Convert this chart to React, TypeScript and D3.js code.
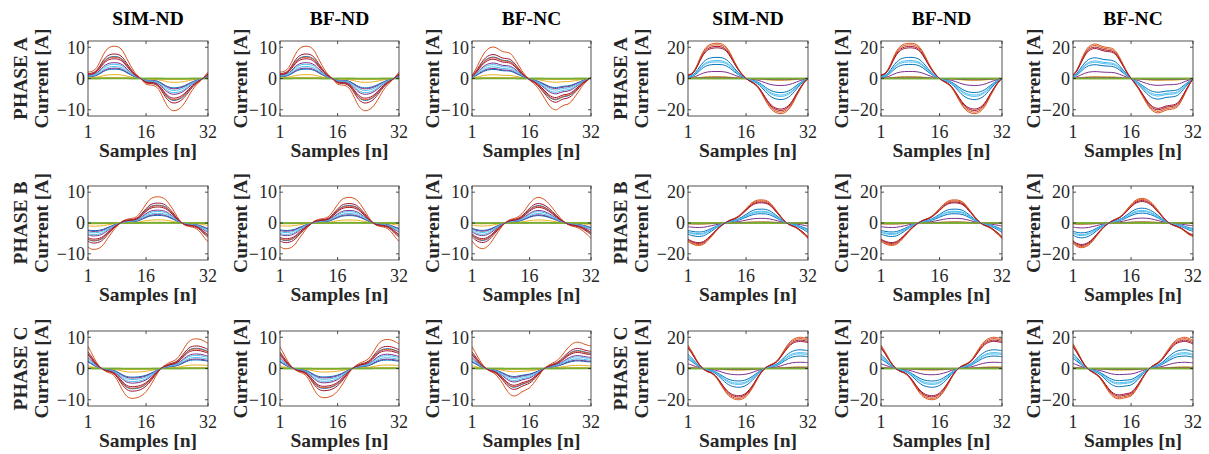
import React from 'react';
import * as d3 from 'd3';

// ---------- data ----------
const SAMPLES = [1, 2, 3, 4, 5, 6, 7, 8, 9, 10, 11, 12, 13, 14, 15, 16, 17, 18, 19, 20, 21, 22, 23, 24, 25, 26, 27, 28, 29, 30, 31, 32];
const METHODS = ['SIM-ND', 'BF-ND', 'BF-NC'];
const PHASES = ['PHASE A', 'PHASE B', 'PHASE C'];
const X_TICKS = [1, 16, 32];
const Y_TICKS_LOW = [-10, 0, 10];
const Y_TICKS_HIGH = [-20, 0, 20];
const Y_LIM_LOW = 12;
const Y_LIM_HIGH = 24;

// MATLAB default colour order, cycled over 14 traces
const SERIES_COLORS = ['#0072BD', '#D95319', '#EDB120', '#7E2F8E', '#77AC30', '#4DBEEE', '#A2142F', '#0072BD', '#D95319', '#EDB120', '#7E2F8E', '#77AC30', '#4DBEEE', '#A2142F'];
// size of each trace relative to the largest one
const REL_LOW = [0.68, 1.0, 0.12, 0.49, 0, 0.44, 0.76, 0.29, 0.66, 0.03, 0.32, 0.01, 0.37, 0.61];
const REL_HIGH = [0.6, 1.0, 0.053, 0.2, 0, 0.51, 0.91, 0.4, 0.956, 0.018, 0.036, 0.004, 0.47, 0.87];
// peak of the largest trace [A] per column (rows: phase A, B, C)
const PEAK_SIM_LOW = [10.3, 8.5, 9.5];
const PEAK_BFND_LOW = [10.3, 8.3, 9.3];
const PEAK_BFNC_LOW = [10.0, 8.3, 8.8];
const PEAK_SIM_HIGH = [22.5, 15, 20];
const PEAK_BFND_HIGH = [22.5, 15, 20];
const PEAK_BFNC_HIGH = [22, 16, 20];

// normalised waveforms (low-current panels)
const LOW_SIM_A = [0.2, 0.22, 0.3, 0.5, 0.75, 0.92, 0.99, 1.0, 0.97, 0.85, 0.62, 0.4, 0.2, 0.07, -0.05, -0.18, -0.2, -0.22, -0.3, -0.5, -0.75, -0.93, -1.0, -0.98, -0.9, -0.75, -0.55, -0.35, -0.2, -0.08, 0.05, 0.2];
const LOW_SIM_B = [-0.92, -1.0, -1.0, -0.95, -0.82, -0.6, -0.4, -0.2, -0.05, 0.08, 0.14, 0.17, 0.2, 0.3, 0.5, 0.72, 0.9, 0.98, 1.0, 0.98, 0.9, 0.72, 0.5, 0.25, 0.05, -0.08, -0.13, -0.16, -0.22, -0.35, -0.55, -0.72];
const LOW_SIM_C = [0.75, 0.5, 0.25, 0.07, -0.05, -0.12, -0.17, -0.28, -0.5, -0.75, -0.93, -1.0, -1.0, -0.97, -0.9, -0.78, -0.6, -0.38, -0.15, 0.02, 0.12, 0.2, 0.25, 0.33, 0.5, 0.72, 0.9, 0.98, 1.0, 0.98, 0.92, 0.85];
const LOW_NC_A = [0.1, 0.3, 0.55, 0.78, 0.93, 1.0, 1.0, 0.93, 0.86, 0.84, 0.8, 0.65, 0.45, 0.25, 0.08, -0.05, -0.15, -0.28, -0.45, -0.65, -0.85, -0.97, -1.0, -0.92, -0.85, -0.82, -0.72, -0.55, -0.38, -0.2, -0.08, 0.05];
const LOW_NC_B = [-0.7, -0.88, -0.98, -1.0, -0.92, -0.75, -0.52, -0.3, -0.1, 0.05, 0.14, 0.18, 0.24, 0.36, 0.55, 0.76, 0.92, 1.0, 0.98, 0.9, 0.76, 0.58, 0.38, 0.2, 0.05, -0.06, -0.12, -0.16, -0.22, -0.32, -0.45, -0.6];
const LOW_NC_C = [0.8, 0.55, 0.3, 0.1, -0.04, -0.12, -0.2, -0.35, -0.55, -0.78, -0.95, -1.0, -0.95, -0.85, -0.78, -0.7, -0.55, -0.35, -0.15, 0.02, 0.12, 0.2, 0.28, 0.4, 0.58, 0.75, 0.88, 0.95, 0.95, 0.9, 0.85, 0.82];

// normalised waveforms (high-current panels)
const HIGH_SIM_A = [0.1, 0.15, 0.3, 0.55, 0.78, 0.92, 0.98, 1.0, 1.0, 0.97, 0.88, 0.7, 0.48, 0.28, 0.12, 0.0, -0.08, -0.15, -0.25, -0.42, -0.62, -0.8, -0.92, -0.98, -1.0, -0.97, -0.88, -0.72, -0.5, -0.3, -0.12, 0.0];
const HIGH_SIM_B = [-0.8, -0.9, -0.96, -0.97, -0.92, -0.78, -0.6, -0.4, -0.22, -0.07, 0.05, 0.14, 0.2, 0.3, 0.45, 0.62, 0.8, 0.93, 0.99, 1.0, 0.98, 0.9, 0.72, 0.5, 0.28, 0.08, -0.06, -0.14, -0.22, -0.35, -0.5, -0.68];
const HIGH_SIM_C = [0.75, 0.55, 0.32, 0.12, -0.02, -0.1, -0.15, -0.25, -0.42, -0.62, -0.8, -0.92, -0.98, -1.0, -0.98, -0.9, -0.75, -0.55, -0.32, -0.12, 0.02, 0.1, 0.16, 0.25, 0.42, 0.62, 0.8, 0.92, 0.98, 1.0, 0.98, 0.95];
const HIGH_NC_A = [0.1, 0.25, 0.5, 0.75, 0.92, 0.99, 1.0, 0.96, 0.92, 0.9, 0.88, 0.8, 0.62, 0.4, 0.18, 0.0, -0.15, -0.32, -0.52, -0.72, -0.88, -0.97, -1.0, -0.97, -0.92, -0.9, -0.88, -0.82, -0.65, -0.42, -0.2, 0.0];
const HIGH_NC_B = [-0.82, -0.95, -1.0, -0.98, -0.9, -0.75, -0.55, -0.35, -0.17, -0.03, 0.08, 0.16, 0.24, 0.38, 0.56, 0.75, 0.9, 0.98, 1.0, 0.96, 0.86, 0.7, 0.5, 0.3, 0.12, -0.02, -0.1, -0.16, -0.24, -0.36, -0.48, -0.55];
const HIGH_NC_C = [0.8, 0.58, 0.34, 0.12, -0.03, -0.12, -0.2, -0.32, -0.5, -0.7, -0.86, -0.95, -0.97, -0.95, -0.92, -0.88, -0.74, -0.54, -0.32, -0.12, 0.03, 0.12, 0.2, 0.32, 0.5, 0.68, 0.84, 0.94, 0.98, 1.0, 0.96, 0.9];

// per column (SIM-ND, BF-ND, BF-NC | SIM-ND, BF-ND, BF-NC)
const SHAPES = [
  [LOW_SIM_A, LOW_SIM_B, LOW_SIM_C],
  [LOW_SIM_A, LOW_SIM_B, LOW_SIM_C],
  [LOW_NC_A, LOW_NC_B, LOW_NC_C],
  [HIGH_SIM_A, HIGH_SIM_B, HIGH_SIM_C],
  [HIGH_SIM_A, HIGH_SIM_B, HIGH_SIM_C],
  [HIGH_NC_A, HIGH_NC_B, HIGH_NC_C],
];
const PEAKS = [PEAK_SIM_LOW, PEAK_BFND_LOW, PEAK_BFNC_LOW, PEAK_SIM_HIGH, PEAK_BFND_HIGH, PEAK_BFNC_HIGH];

// ---------- layout ----------
const COLS = [
  { x: 88, w: 120 },
  { x: 280, w: 119 },
  { x: 472, w: 119 },
  { x: 688, w: 120 },
  { x: 881, w: 121 },
  { x: 1073, w: 120 },
];
const ROWS = [
  { y: 41, h: 75 },
  { y: 186, h: 74 },
  { y: 331, h: 75 },
];
const FONT = '"Liberation Serif", "Times New Roman", serif';
const AX = '#262626';

function Panel({ ci, ri }: { ci: number; ri: number }) {
  const c = COLS[ci];
  const r = ROWS[ri];
  const high = ci >= 3;
  const lim = high ? Y_LIM_HIGH : Y_LIM_LOW;
  const yTicks = high ? Y_TICKS_HIGH : Y_TICKS_LOW;
  const rel = high ? REL_HIGH : REL_LOW;
  const peak = PEAKS[ci][ri];
  const shape = SHAPES[ci][ri];
  const x = d3.scaleLinear().domain([1, 32]).range([c.x, c.x + c.w]);
  const y = d3.scaleLinear().domain([-lim, lim]).range([r.y + r.h, r.y]);
  const line = d3
    .line<number>()
    .x((_, i) => x(SAMPLES[i]))
    .y((d) => y(d))
    .curve(d3.curveCatmullRom.alpha(0.5));
  const clipId = `clip-${ci}-${ri}`;
  const tl = 3;
  const firstInGroup = ci === 0 || ci === 3;
  const cy = r.y + r.h / 2;
  return (
    <g>
      <defs>
        <clipPath id={clipId}>
          <rect x={c.x} y={r.y} width={c.w} height={r.h} />
        </clipPath>
      </defs>
      <g clipPath={`url(#${clipId})`}>
        {rel.map((a, k) => (
          <path
            key={k}
            d={line(shape.map((v) => v * a * peak)) || ''}
            fill="none"
            stroke={SERIES_COLORS[k]}
            strokeWidth={SERIES_COLORS[k] === '#77AC30' ? 1.6 : 1}
          />
        ))}
      </g>
      <rect x={c.x} y={r.y} width={c.w} height={r.h} fill="none" stroke={AX} strokeWidth={0.8} />
      {X_TICKS.map((t) => (
        <g key={'xt' + t}>
          <line x1={x(t)} x2={x(t)} y1={r.y + r.h} y2={r.y + r.h - tl} stroke={AX} strokeWidth={0.8} />
          <line x1={x(t)} x2={x(t)} y1={r.y} y2={r.y + tl} stroke={AX} strokeWidth={0.8} />
          <text x={x(t)} y={r.y + r.h + 22} textAnchor="middle" fontSize={18} fontFamily={FONT} fill={AX}>
            {t}
          </text>
        </g>
      ))}
      {yTicks.map((t) => (
        <g key={'yt' + t}>
          <line x1={c.x} x2={c.x + tl} y1={y(t)} y2={y(t)} stroke={AX} strokeWidth={0.8} />
          <line x1={c.x + c.w} x2={c.x + c.w - tl} y1={y(t)} y2={y(t)} stroke={AX} strokeWidth={0.8} />
          <text x={c.x - 3} y={y(t)} dy="0.35em" textAnchor="end" fontSize={18} fontFamily={FONT} fill={AX}>
            {t < 0 ? '\u2212' + Math.abs(t) : String(t)}
          </text>
        </g>
      ))}
      <text
        x={c.x + c.w / 2}
        y={r.y + r.h + 41}
        textAnchor="middle"
        fontSize={19.5}
        fontWeight="bold"
        fontFamily={FONT}
        fill={AX}
      >
        Samples [n]
      </text>
      <text
        transform={`translate(${c.x - (firstInGroup ? 47 : 40)},${cy}) rotate(-90)`}
        textAnchor="middle"
        dominantBaseline="central"
        fontSize={19.5}
        fontWeight="bold"
        fontFamily={FONT}
        fill={AX}
      >
        Current [A]
      </text>
      {firstInGroup && (
        <text
          transform={`translate(${c.x - 68},${cy}) rotate(-90)`}
          textAnchor="middle"
          dominantBaseline="central"
          fontSize={19.5}
          fontWeight="bold"
          fontFamily={FONT}
          fill={AX}
        >
          {PHASES[ri]}
        </text>
      )}
      {ri === 0 && (
        <text
          x={c.x + c.w / 2}
          y={25}
          textAnchor="middle"
          fontSize={19.5}
          fontWeight="bold"
          fontFamily={FONT}
          fill="#000"
        >
          {METHODS[ci % 3]}
        </text>
      )}
    </g>
  );
}

export default function App() {
  return (
    <svg
      width={1209}
      height={454}
      style={{ position: 'absolute', left: 0, top: 0, background: '#fff' }}
    >
      <rect x={0} y={0} width={1209} height={454} fill="#fff" />
      {ROWS.map((_, ri) => COLS.map((_, ci) => <Panel key={`${ri}-${ci}`} ci={ci} ri={ri} />))}
    </svg>
  );
}
